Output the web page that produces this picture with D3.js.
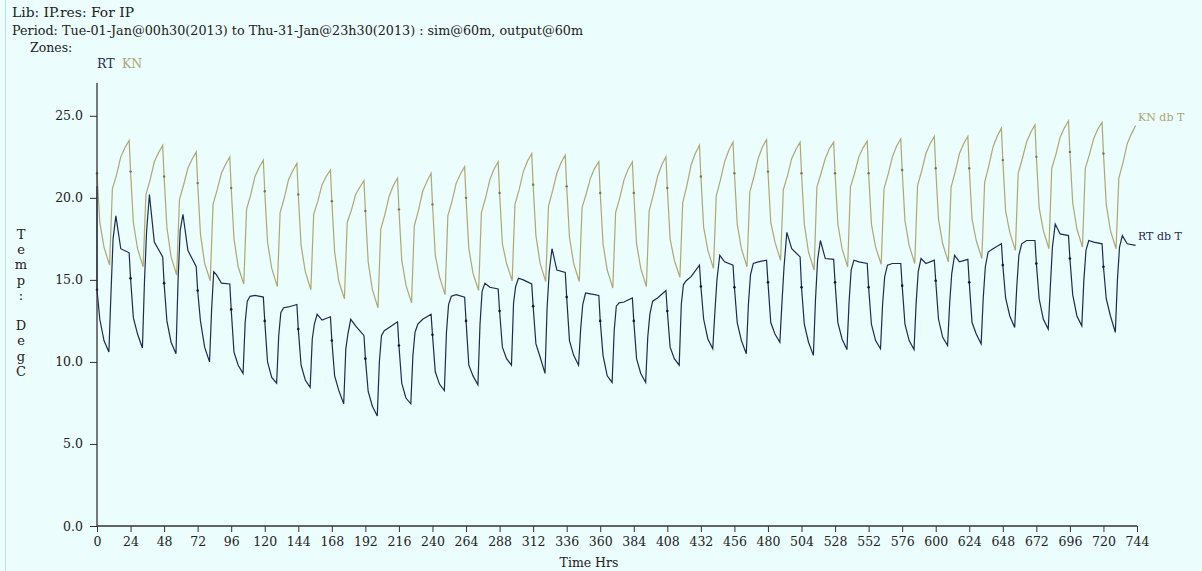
<!DOCTYPE html>
<html>
<head>
<meta charset="utf-8">
<script src="https://cdn.jsdelivr.net/npm/d3@7"></script>
<style>
  html, body { margin: 0; padding: 0; background: #ebfdfc; }
  svg text { font-family: "DejaVu Serif", Georgia, "Liberation Serif", serif; }
</style>
</head>
<body>
<div id="chart"></div>
<script>
var knHours = [0, 2, 5, 9, 11, 14, 17, 20, 23];
var rtHours = [0, 2, 5, 8.5, 10, 11.5, 13.5, 17, 23];

// KN db T, one value per day (31 days) for each hour above
var knH0   = [21.5, 21.6, 21.3, 20.9, 20.6, 20.4, 20.2, 19.8, 19.2, 19.3, 19.6, 20.0, 20.3, 20.8, 20.7, 20.3, 20.3, 20.6, 21.3, 21.5, 21.6, 21.5, 21.5, 21.5, 21.7, 21.8, 21.8, 22.3, 22.5, 22.8, 22.7];
var knH2   = [18.5, 18.5, 18.2, 17.8, 17.5, 17.3, 17.1, 16.7, 16.1, 16.2, 16.5, 16.9, 17.2, 17.7, 17.6, 17.2, 17.2, 17.5, 18.2, 18.4, 18.5, 18.4, 18.4, 18.4, 18.6, 18.7, 18.7, 19.2, 19.4, 19.7, 19.6];
var knH5   = [17.0, 16.9, 16.4, 16.0, 15.8, 15.7, 15.5, 14.9, 14.4, 14.7, 15.2, 15.4, 16.0, 16.0, 16.0, 15.6, 15.7, 16.2, 16.8, 16.9, 17.3, 16.7, 16.9, 17.0, 17.1, 17.2, 17.4, 17.9, 18.0, 18.1, 18.0];
var knMin  = [15.9, 15.8, 15.3, 14.95, 14.75, 14.6, 14.4, 13.85, 13.3, 13.6, 14.1, 14.35, 14.95, 14.9, 14.9, 14.5, 14.6, 15.15, 15.7, 15.8, 16.2, 15.6, 15.8, 15.95, 16.0, 16.1, 16.3, 16.8, 16.9, 17.0, 16.9];
var knKnee = [20.55, 20.2, 19.9, 19.6, 19.3, 19.1, 19.0, 18.5, 18.1, 18.3, 18.9, 19.1, 19.6, 19.5, 19.4, 19.1, 19.2, 19.7, 20.1, 20.35, 20.5, 20.65, 20.65, 20.55, 20.75, 20.65, 20.95, 21.5, 21.8, 21.8, 21.2];
var knH14  = [21.4, 21.1, 20.8, 20.5, 20.2, 20.0, 19.8, 19.25, 19.0, 19.25, 19.8, 20.0, 20.5, 20.45, 20.25, 20.0, 20.2, 20.75, 21.1, 21.3, 21.35, 21.5, 21.5, 21.45, 21.65, 21.6, 21.95, 22.4, 22.65, 22.65, 22.15];
var knMid  = [22.5, 22.2, 21.8, 21.5, 21.3, 21.1, 20.8, 20.2, 20.1, 20.4, 20.9, 21.1, 21.6, 21.5, 21.2, 21.1, 21.3, 22.0, 22.2, 22.4, 22.4, 22.4, 22.5, 22.5, 22.7, 22.7, 23.1, 23.4, 23.7, 23.6, 23.3];
var knH20  = [23.05, 22.75, 22.35, 22.05, 21.85, 21.65, 21.3, 20.65, 20.75, 21.0, 21.45, 21.75, 22.25, 22.15, 21.8, 21.75, 22.0, 22.7, 22.9, 23.1, 22.95, 23.0, 23.05, 23.15, 23.3, 23.3, 23.75, 24.0, 24.25, 24.2, 23.9];
var knPeak = [23.5, 23.2, 22.8, 22.5, 22.3, 22.1, 21.7, 21.05, 21.2, 21.5, 21.9, 22.2, 22.7, 22.6, 22.2, 22.2, 22.5, 23.2, 23.4, 23.55, 23.4, 23.4, 23.45, 23.6, 23.75, 23.75, 24.25, 24.45, 24.7, 24.6, 24.4];

// RT db T, one value per day for each hour above
var rtStart    = 20.7;
var rtH0       = [14.4, 15.1, 14.8, 14.35, 13.2, 12.5, 12.0, 11.3, 10.2, 11.0, 11.65, 12.5, 13.1, 13.4, 13.95, 12.5, 12.5, 13.1, 14.6, 14.55, 14.85, 14.55, 14.85, 14.55, 14.65, 14.95, 14.85, 15.9, 16.0, 16.3, 15.8];
var rtH2       = [12.6, 12.7, 12.5, 12.5, 10.6, 10.0, 9.8, 9.15, 8.2, 8.7, 9.4, 9.8, 10.9, 11.1, 11.3, 10.4, 10.2, 10.9, 12.6, 12.4, 12.4, 12.3, 12.4, 12.3, 12.3, 12.6, 12.4, 13.9, 13.85, 14.1, 13.85];
var rtH5       = [11.3, 11.7, 11.2, 10.9, 9.8, 9.05, 8.9, 8.25, 7.3, 7.8, 8.65, 9.15, 10.2, 10.3, 10.4, 9.15, 9.3, 10.2, 11.4, 11.3, 11.7, 11.2, 11.4, 11.3, 11.3, 11.5, 11.7, 12.8, 12.6, 12.8, 12.8];
var rtMin      = [10.6, 10.85, 10.5, 10.0, 9.3, 8.7, 8.45, 7.45, 6.7, 7.45, 8.25, 8.6, 9.8, 9.3, 9.8, 8.75, 8.75, 9.8, 10.8, 10.5, 11.2, 10.4, 10.75, 10.8, 10.75, 11.0, 11.1, 12.1, 12.0, 12.2, 11.8];
var rtRise     = [14.2, 15.0, 15.0, 13.2, 12.4, 11.6, 11.4, 10.8, 10.0, 10.4, 11.8, 12.3, 13.6, 13.3, 12.0, 11.9, 11.5, 13.5, 13.0, 13.5, 13.6, 13.8, 13.6, 13.5, 13.6, 13.6, 13.9, 14.6, 14.6, 15.0, 15.0];
var rtTop      = [17.5, 18.0, 18.0, 15.5, 13.7, 13.0, 12.3, 11.7, 11.6, 11.8, 13.5, 14.3, 14.6, 15.5, 13.5, 13.4, 12.9, 14.7, 15.0, 15.3, 15.8, 16.2, 15.6, 15.2, 15.5, 15.4, 15.8, 16.5, 17.0, 16.8, 17.0];
var rtPeak     = [18.9, 20.2, 19.0, 15.3, 14.0, 13.3, 12.9, 12.6, 11.9, 12.3, 14.0, 14.8, 15.1, 16.9, 14.2, 13.6, 13.7, 14.95, 16.5, 16.0, 17.9, 17.4, 16.2, 15.9, 16.3, 16.5, 16.7, 17.2, 18.4, 17.4, 17.7];
var rtShoulder = [16.9, 17.3, 16.8, 14.8, 14.05, 13.35, 12.55, 12.2, 12.1, 12.6, 14.1, 14.55, 15.0, 15.6, 14.15, 13.65, 13.9, 15.2, 16.1, 16.1, 16.9, 16.3, 16.1, 16.0, 16.0, 16.1, 16.9, 17.4, 17.8, 17.3, 17.2];
var rtEnd      = [16.65, 16.4, 15.8, 14.75, 13.95, 13.5, 12.75, 11.6, 12.45, 12.9, 13.95, 14.45, 14.75, 15.45, 14.05, 13.9, 14.35, 15.9, 15.9, 16.2, 16.4, 16.25, 16.0, 16.0, 16.2, 16.25, 17.2, 17.4, 17.7, 17.2, 17.1];

var xTicks = d3.range(0, 745, 24);
var yTicks = [0, 5, 10, 15, 20, 25];

var width = 1202,
    height = 571;

var svg = d3.select("#chart")
    .append("svg")
    .attr("width", width)
    .attr("height", height);

// thin frame line on the left
svg.append("line")
    .attr("x1", 5.5).attr("x2", 5.5)
    .attr("y1", 0).attr("y2", height)
    .attr("stroke", "#bfe3e3");

var x = d3.scaleLinear().domain([0, 744]).range([97, 1137]);
var y = d3.scaleLinear().domain([0, 27]).range([526, 83]);

// build the point lists from the day columns
function buildSeries(hours, cols) {
    var pts = [];
    for (var d = 0; d < cols[0].length; d++) {
        hours.forEach(function(h, i) {
            pts.push({t: d * 24 + h, v: cols[i][d]});
        });
    }
    return pts;
}

var knData = buildSeries(knHours, [knH0, knH2, knH5, knMin, knKnee, knH14, knMid, knH20, knPeak]);
var rtData = buildSeries(rtHours, [rtH0, rtH2, rtH5, rtMin, rtRise, rtTop, rtPeak, rtShoulder, rtEnd]);
rtData.unshift({t: 0, v: rtStart});

var line = d3.line()
    .x(function(d) { return x(d.t) })
    .y(function(d) { return y(d.v) });

var knColor = "#aea872",
    rtColor = "#1d2b55";

svg.append("path")
    .datum(knData)
    .attr("d", line)
    .attr("fill", "none")
    .attr("stroke", knColor)
    .attr("stroke-width", 1.2);

svg.append("path")
    .datum(rtData)
    .attr("d", line)
    .attr("fill", "none")
    .attr("stroke", rtColor)
    .attr("stroke-width", 1.2);

// small markers at each day start
svg.selectAll(".kn-dot")
    .data(knData.filter(function(d) { return d.t % 24 === 0 }))
    .enter().append("circle")
    .attr("class", "kn-dot")
    .attr("cx", function(d) { return x(d.t) })
    .attr("cy", function(d) { return y(d.v) })
    .attr("r", 1.2)
    .attr("fill", "#7a764c");

svg.selectAll(".rt-dot")
    .data(rtData.filter(function(d, i) { return i > 0 && d.t % 24 === 0 }))
    .enter().append("circle")
    .attr("class", "rt-dot")
    .attr("cx", function(d) { return x(d.t) })
    .attr("cy", function(d) { return y(d.v) })
    .attr("r", 1.3)
    .attr("fill", "#111a33");

// axes
var xAxis = d3.axisBottom(x)
    .tickValues(xTicks)
    .tickSize(6)
    .tickPadding(5)
    .tickFormat(d3.format("d"));

var yAxis = d3.axisLeft(y)
    .tickValues(yTicks)
    .tickSize(7)
    .tickPadding(7)
    .tickFormat(d3.format(".1f"));

var gx = svg.append("g")
    .attr("transform", "translate(0," + y(0) + ")")
    .call(xAxis);

var gy = svg.append("g")
    .attr("transform", "translate(" + x(0) + ",0)")
    .call(yAxis);

[gx, gy].forEach(function(g) {
    g.select(".domain").attr("stroke", "#333").attr("stroke-width", 1.3);
    g.selectAll(".tick line").attr("stroke", "#333");
    g.selectAll(".tick text")
        .attr("fill", "#222")
        .style("font-size", "12.5px")
        .style("font-family", "'DejaVu Serif', Georgia, serif");
});
gx.select(".domain").attr("d", "M" + x(0) + ",0H" + x(744));
gy.select(".domain").attr("d", "M0," + y(0) + "V" + y(27));

// header text
var head = svg.append("g").style("font-size", "12.5px").attr("fill", "#222");
head.append("text").attr("x", 12).attr("y", 17)
    .attr("textLength", 122).attr("lengthAdjust", "spacingAndGlyphs")
    .text("Lib: IP.res: For IP");
head.append("text").attr("x", 12).attr("y", 35)
    .attr("textLength", 571).attr("lengthAdjust", "spacingAndGlyphs")
    .text("Period: Tue-01-Jan@00h30(2013) to Thu-31-Jan@23h30(2013) : sim@60m, output@60m");
head.append("text").attr("x", 30).attr("y", 52).text("Zones:");
head.append("text").attr("x", 97).attr("y", 68).attr("fill", rtColor).text("RT");
head.append("text").attr("x", 122).attr("y", 68).attr("fill", knColor).text("KN");

// y label, letters stacked
var yLabel = ["T", "e", "m", "p", ":", "", "D", "e", "g", "C"];
svg.append("g").selectAll("text")
    .data(yLabel)
    .enter().append("text")
    .attr("x", 21)
    .attr("y", function(d, i) { return 239 + i * 15.2 })
    .attr("text-anchor", "middle")
    .style("font-size", "13px")
    .attr("fill", "#222")
    .text(function(d) { return d });

svg.append("text")
    .attr("x", 589).attr("y", 567)
    .attr("text-anchor", "middle")
    .style("font-size", "12.5px")
    .attr("fill", "#222")
    .text("Time Hrs");

// series end labels
svg.append("text")
    .attr("x", 1138).attr("y", 121)
    .style("font-size", "11px")
    .attr("fill", knColor)
    .text("KN db T");

svg.append("text")
    .attr("x", 1138).attr("y", 240)
    .style("font-size", "11px")
    .attr("fill", rtColor)
    .text("RT db T");
</script>
</body>
</html>
